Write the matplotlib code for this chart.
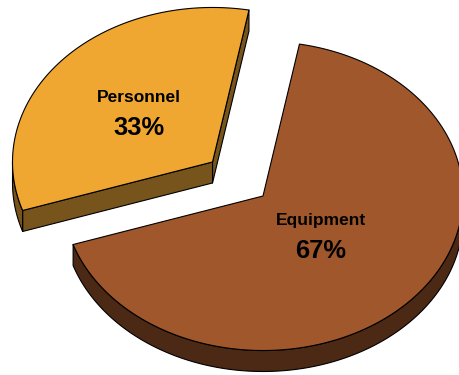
import numpy as np
import matplotlib
matplotlib.use("Agg")
import matplotlib.pyplot as plt
from matplotlib.patches import Polygon

# ---- data ----
labels = ["Personnel", "Equipment"]
values = [33, 67]

# ---- style ----
top_colors = ["#EFA731", "#A0572C"]
side_colors = ["#77541C", "#4B2915"]
explode = [0.335, 0.0]
label_r = [0.49, 0.385]

W, H = 459, 375
fig = plt.figure(figsize=(W / 100, H / 100), dpi=100)
ax = fig.add_axes([0, 0, 1, 1])
ax.set_xlim(0, W)
ax.set_ylim(H, 0)
ax.axis("off")

cx, cy = 263, 196
rx, ry = 200, 154.5
depth = 21
start = 79.5
lw = 0.8

total = float(sum(values))
spans = [v / total * 360 for v in values]
ranges = []
t = start
for s in spans:
    ranges.append((t, t + s))
    t += s


def rim(tt, ox, oy, dz=0.0):
    r = np.radians(tt)
    return np.column_stack([ox + rx * np.cos(r), oy - ry * np.sin(r) + dz])


for i, (t0, t1) in enumerate(ranges):
    mid = np.radians((t0 + t1) / 2)
    ox = cx + explode[i] * rx * np.cos(mid)
    oy = cy - explode[i] * ry * np.sin(mid)
    apex = np.array([ox, oy])
    down = np.array([0, depth])

    # radial side faces (only the visible ones)
    for tt, vis in ((t0, np.cos(np.radians(t0)) > 0), (t1, np.cos(np.radians(t1)) < 0)):
        if vis:
            p = rim(np.array([tt]), ox, oy)[0]
            quad = np.array([apex, p, p + down, apex + down])
            ax.add_patch(Polygon(quad, closed=True, facecolor=side_colors[i],
                                 edgecolor="black", lw=lw, joinstyle="round"))

    # outer rim side (front half only)
    ts = np.linspace(t0, t1, 600)
    front = np.sin(np.radians(ts)) <= 0
    idx = np.where(front)[0]
    if len(idx):
        runs = np.split(idx, np.where(np.diff(idx) > 1)[0] + 1)
        for run in runs:
            tr = ts[run]
            upper = rim(tr, ox, oy)
            lower = rim(tr[::-1], ox, oy, depth)
            ax.add_patch(Polygon(np.vstack([upper, lower]), closed=True,
                                 facecolor=side_colors[i], edgecolor="black",
                                 lw=lw, joinstyle="round"))

    # top face
    arc = rim(ts, ox, oy)
    poly = np.vstack([apex, arc])
    ax.add_patch(Polygon(poly, closed=True, facecolor=top_colors[i],
                         edgecolor="black", lw=lw, joinstyle="round"))

    # labels
    lx = ox + label_r[i] * rx * np.cos(mid)
    ly = oy - label_r[i] * ry * np.sin(mid)
    ax.text(lx, ly - 10, labels[i], ha="center", va="baseline",
            fontsize=12.5, fontweight="bold", family="Liberation Sans")
    ax.text(lx, ly + 23, f"{values[i]}%", ha="center", va="baseline",
            fontsize=18.4, fontweight="bold", family="Liberation Sans")

fig.savefig("out.png", dpi=100)
